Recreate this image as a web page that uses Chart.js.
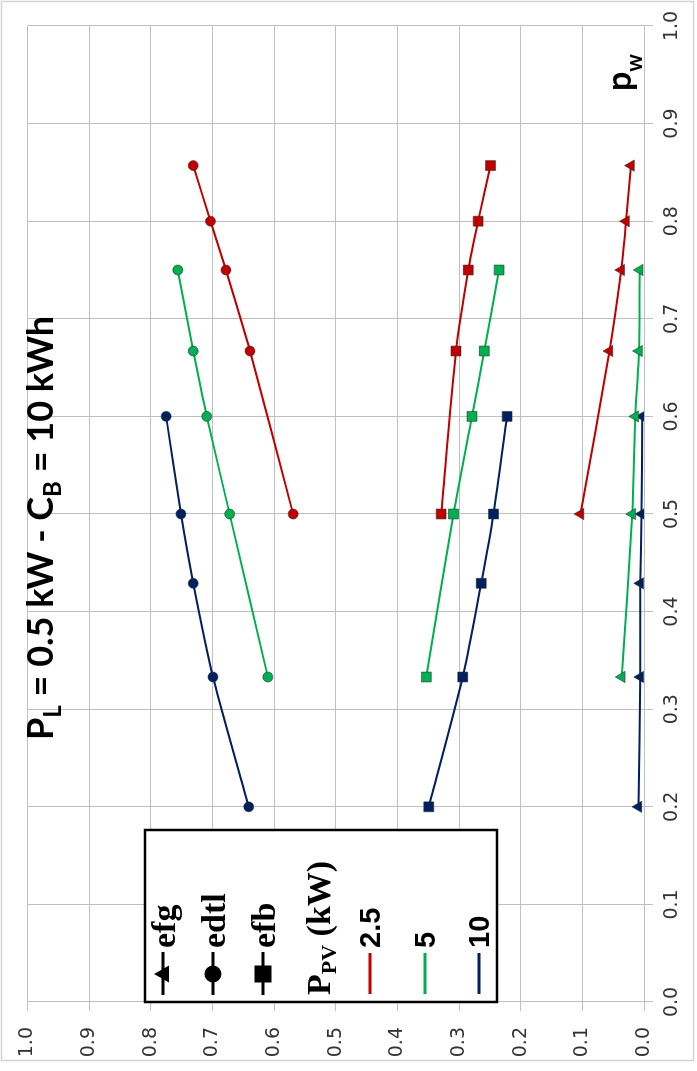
<!DOCTYPE html>
<html>
<head>
<meta charset="utf-8">
<title>Efficiency vs p_w</title>
<script src="https://cdn.jsdelivr.net/npm/chart.js@4.4.1/dist/chart.umd.min.js"></script>
<style>
  html, body { margin: 0; padding: 0; background: #fff; overflow: hidden; }
  /* the chart is laid out landscape and turned a quarter turn to stand upright */
  #wrap {
    position: absolute; left: 0; top: 0;
    width: 1071px; height: 697px;
    transform-origin: 0 0;
    transform: translateY(1071px) rotate(-90deg);
  }
</style>
</head>
<body>
<div id="wrap"><canvas id="graph-eff" width="1071" height="697"></canvas></div>
<script>
// p_w values and efficiencies for each PV size (kW)
var pw25   = [0.5, 0.667, 0.75, 0.8, 0.857];
var efg25  = [0.103, 0.056, 0.037, 0.029, 0.021];
var edtl25 = [0.569, 0.639, 0.678, 0.703, 0.731];
var efb25  = [0.329, 0.305, 0.285, 0.269, 0.249];

var pw5   = [0.333, 0.5, 0.6, 0.667, 0.75];
var efg5  = [0.036, 0.019, 0.014, 0.008, 0.007];
var edtl5 = [0.610, 0.672, 0.709, 0.731, 0.756];
var efb5  = [0.353, 0.309, 0.279, 0.259, 0.235];

var pw10   = [0.2, 0.333, 0.429, 0.5, 0.6];
var efg10  = [0.009, 0.006, 0.006, 0.004, 0.003];
var edtl10 = [0.641, 0.699, 0.731, 0.751, 0.775];
var efb10  = [0.349, 0.294, 0.264, 0.244, 0.222];

var pvLabels = ["2.5", "5", "10"];
var effLabels = ["efg", "edtl", "efb"];
var axisTicks = [0, 0.1, 0.2, 0.3, 0.4, 0.5, 0.6, 0.7, 0.8, 0.9, 1.0];

var red = '#c00000', green = '#00b050', navy = '#002060';
var gridColor = '#bfbfbf';

function pts(xs, ys) {
    var out = [];
    for (let i = 0; i < xs.length; i++) out.push({x: xs[i], y: ys[i]});
    return out;
}

function serie(label, xs, ys, color, style) {
    var r = style == 'rect' ? 7 : (style == 'triangle' ? 6.5 : 5);
    return {
        label: label,
        data: pts(xs, ys),
        showLine: true,
        borderColor: color,
        borderWidth: 2,
        tension: 0.25,
        pointStyle: style,
        pointRadius: r,
        pointBackgroundColor: color,
        pointBorderColor: 'rgba(40,40,40,0.55)',
        pointBorderWidth: 1
    };
}

var datasets = [
    serie('efg 2.5', pw25, efg25, red, 'triangle'),
    serie('edtl 2.5', pw25, edtl25, red, 'circle'),
    serie('efb 2.5', pw25, efb25, red, 'rect'),
    serie('efg 5', pw5, efg5, green, 'triangle'),
    serie('edtl 5', pw5, edtl5, green, 'circle'),
    serie('efb 5', pw5, efb5, green, 'rect'),
    serie('efg 10', pw10, efg10, navy, 'triangle'),
    serie('edtl 10', pw10, edtl10, navy, 'circle'),
    serie('efb 10', pw10, efb10, navy, 'rect')
];

// draws a run of text pieces, each with its own font and baseline shift
function richText(ctx, parts, x, y) {
    for (const p of parts) {
        ctx.font = p.f;
        ctx.fillText(p.t, x, y + (p.dy || 0));
        x += ctx.measureText(p.t).width;
    }
}

function legendMarker(ctx, style, x, y) {
    ctx.fillStyle = '#000';
    ctx.beginPath();
    if (style == 'triangle') {
        ctx.moveTo(x, y - 9);
        ctx.lineTo(x + 8.5, y + 6);
        ctx.lineTo(x - 8.5, y + 6);
        ctx.closePath();
    } else if (style == 'circle') {
        ctx.arc(x, y, 8.5, 0, Math.PI * 2);
    } else {
        ctx.rect(x - 8.5, y - 8.5, 17, 17);
    }
    ctx.fill();
}

const framePlugin = {
    id: 'frame',
    beforeDraw(chart) {
        const ctx = chart.ctx;
        ctx.save();
        ctx.fillStyle = '#fff';
        ctx.fillRect(0, 0, chart.width, chart.height);
        ctx.strokeStyle = '#d4d4d4';
        ctx.lineWidth = 1.5;
        ctx.strokeRect(10.5, 1.5, 1059, 692);
        ctx.restore();
    }
};

const textPlugin = {
    id: 'texts',
    afterDatasetsDraw(chart) {
        const ctx = chart.ctx;
        ctx.save();
        ctx.fillStyle = '#000';
        ctx.textBaseline = 'alphabetic';
        ctx.textAlign = 'left';

        // title
        var big = 'bold 36px Lato', sub = 'bold 24px Lato';
        richText(ctx, [
            {t: 'P', f: big}, {t: 'L', f: sub, dy: 8},
            {t: ' = 0.5 kW - C', f: big}, {t: 'B', f: sub, dy: 8},
            {t: ' = 10 kWh', f: big}
        ], 331, 53);

        // x axis name
        richText(ctx, [
            {t: 'p', f: 'bold 34px Lato'}, {t: 'w', f: 'bold 22px Lato', dy: 11}
        ], 980, 631);

        // legend box
        ctx.fillStyle = '#fff';
        ctx.fillRect(69, 145, 172, 352);
        ctx.strokeStyle = '#000';
        ctx.lineWidth = 2.5;
        ctx.strokeRect(69, 145, 172, 352);

        var styles = ['triangle', 'circle', 'rect'];
        var rowsY = [163, 213, 263];
        for (let i = 0; i < 3; i++) {
            ctx.strokeStyle = '#000';
            ctx.lineWidth = 3;
            ctx.beginPath();
            ctx.moveTo(76, rowsY[i]);
            ctx.lineTo(119, rowsY[i]);
            ctx.stroke();
            legendMarker(ctx, styles[i], 97, rowsY[i]);
            ctx.fillStyle = '#000';
            ctx.font = 'bold 34px "Liberation Serif"';
            ctx.fillText(effLabels[i], 123, rowsY[i] + 12);
        }

        richText(ctx, [
            {t: 'P', f: 'bold 34px "Liberation Serif"'},
            {t: 'PV', f: 'bold 22px "Liberation Serif"', dy: 6},
            {t: ' (kW)', f: 'bold 34px "Liberation Serif"'}
        ], 76, 330);

        var colors = [red, green, navy];
        var colY = [370, 425, 479];
        for (let i = 0; i < 3; i++) {
            ctx.strokeStyle = colors[i];
            ctx.lineWidth = 3;
            ctx.beginPath();
            ctx.moveTo(77, colY[i]);
            ctx.lineTo(118, colY[i]);
            ctx.stroke();
            ctx.fillStyle = '#000';
            ctx.font = 'bold 29px "Liberation Sans"';
            ctx.fillText(pvLabels[i], 123, colY[i] + 10);
        }
        ctx.restore();
    }
};

const ctxEff = document.getElementById('graph-eff');
var ch_eff = new Chart(ctxEff, {
    type: 'scatter',
    data: { datasets: datasets },
    options: {
        responsive: false,
        animation: false,
        devicePixelRatio: 1,
        layout: { padding: { top: 20, right: 26, left: 0, bottom: 0 } },
        plugins: {
            legend: { display: false },
            tooltip: { enabled: false }
        },
        scales: {
            x: {
                type: 'linear',
                min: 0, max: 1,
                afterBuildTicks: function(scale) { scale.ticks = axisTicks.map(v => ({value: v})); },
                afterFit: function(scale) { scale.height = 53; },
                grid: { color: gridColor, tickLength: 9 },
                border: { color: gridColor },
                ticks: {
                    padding: 8,
                    color: '#333',
                    font: { family: 'DejaVu Sans', size: 19 },
                    maxRotation: 0,
                    callback: v => v.toFixed(1)
                }
            },
            y: {
                type: 'linear',
                min: 0, max: 1,
                afterBuildTicks: function(scale) { scale.ticks = axisTicks.map(v => ({value: v})); },
                afterFit: function(scale) { scale.width = 69; },
                grid: { color: gridColor, tickLength: 9 },
                border: { color: gridColor },
                ticks: {
                    padding: 16,
                    color: '#333',
                    font: { family: 'DejaVu Sans', size: 19 },
                    callback: v => v.toFixed(1)
                }
            }
        }
    },
    plugins: [framePlugin, textPlugin]
});
</script>
</body>
</html>
